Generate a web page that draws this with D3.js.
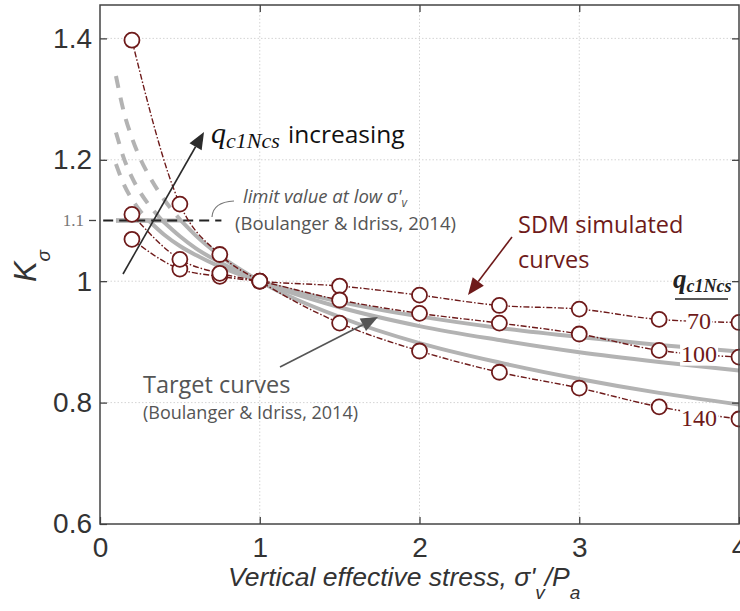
<!DOCTYPE html>
<html>
<head>
<meta charset="utf-8">
<script src="https://cdn.jsdelivr.net/npm/d3@7"></script>
<style>
  html, body { margin: 0; padding: 0; background: #fff; }
  svg { display: block; }
</style>
</head>
<body>
<svg id="chart" width="740" height="611"></svg>
<script>
// ---- SDM simulated K_sigma values at discrete vertical stresses ----
const stressSDM = [0.2, 0.5, 0.75, 1, 1.5, 2, 2.5, 3, 3.5, 4];
const sdm70  = [1.069, 1.020, 1.008, 1.000, 0.992, 0.977, 0.960, 0.954, 0.937, 0.932];
const sdm100 = [1.110, 1.036, 1.013, 1.000, 0.969, 0.947, 0.931, 0.913, 0.886, 0.875];
const sdm140 = [1.397, 1.127, 1.044, 1.000, 0.931, 0.885, 0.850, 0.824, 0.793, 0.773];

// ---- Target curves (Boulanger & Idriss, 2014), limited to 1.1 at low stress ----
const target70Stress  = [0.1, 0.304, 0.4, 0.5, 0.6, 0.75, 1, 1.5, 2, 2.5, 3, 3.5, 4];
const target70        = [1.100, 1.100, 1.077, 1.058, 1.043, 1.024, 1.000, 0.966, 0.942, 0.923, 0.908, 0.895, 0.884];
const target100Stress = [0.1, 0.389, 0.5, 0.6, 0.75, 1, 1.5, 2, 2.5, 3, 3.5, 4];
const target100       = [1.100, 1.100, 1.074, 1.054, 1.031, 1.000, 0.957, 0.926, 0.903, 0.883, 0.867, 0.853];
const target140Stress = [0.1, 0.506, 0.6, 0.75, 1, 1.5, 2, 2.5, 3, 3.5, 4];
const target140       = [1.100, 1.100, 1.075, 1.042, 1.000, 0.941, 0.898, 0.866, 0.839, 0.816, 0.797];

// ---- Unlimited target curves above the 1.1 limit ----
const ext70Stress  = [0.1, 0.15, 0.2, 0.25, 0.304];
const ext70        = [1.193, 1.159, 1.135, 1.116, 1.100];
const ext100Stress = [0.1, 0.15, 0.2, 0.25, 0.3, 0.389];
const ext100       = [1.245, 1.202, 1.171, 1.147, 1.128, 1.100];
const ext140Stress = [0.1, 0.15, 0.2, 0.25, 0.3, 0.4, 0.506];
const ext140       = [1.338, 1.278, 1.236, 1.203, 1.177, 1.135, 1.100];

const qLabels = ["70", "100", "140"];
const limitValue = 1.1;

// ---- Axis ticks ----
const xTicks = [0, 1, 2, 3, 4];
const yTicks = [0.6, 0.8, 1, 1.2, 1.4];
const xGrid = [1, 2, 3];
const yGrid = [0.8, 1, 1.2, 1.4];

const svg = d3.select("#chart");
const x = d3.scaleLinear().domain([0, 4]).range([100, 739]);
const y = d3.scaleLinear().domain([0.6, 1.455]).range([524, 5]);

const RED = "#6e1a1a";
const GRAY = "#b3b3b3";
const SANS = "'Open Sans', 'Noto Sans', sans-serif";
const SERIF = "'Liberation Serif', 'DejaVu Serif', serif";
const AXF = "'Liberation Sans', Arial, sans-serif";

const zip = (xs, ys) => xs.map((s, i) => [s, ys[i]]);

// grid
const grid = svg.append("g").attr("stroke", "#d4d4d4").attr("stroke-width", 1).attr("stroke-dasharray", "1.5,2");
grid.selectAll(".gx").data(xGrid).join("line")
  .attr("x1", d => x(d)).attr("x2", d => x(d)).attr("y1", y.range()[0]).attr("y2", y.range()[1]);
grid.selectAll(".gy").data(yGrid).join("line")
  .attr("x1", x.range()[0]).attr("x2", x.range()[1]).attr("y1", d => y(d)).attr("y2", d => y(d));

const lineMono = d3.line().x(d => x(d[0])).y(d => y(d[1])).curve(d3.curveMonotoneX);
const lineLin = d3.line().x(d => x(d[0])).y(d => y(d[1]));

// target curves: dashed unlimited part
const extSeries = [zip(ext70Stress, ext70), zip(ext100Stress, ext100), zip(ext140Stress, ext140)];
svg.append("g").selectAll("path").data(extSeries).join("path")
  .attr("d", lineMono).attr("fill", "none").attr("stroke", GRAY)
  .attr("stroke-width", 4).attr("stroke-dasharray", "12,10");

// target curves: limited part (flat plateau, then decreasing)
const targetSeries = [zip(target70Stress, target70), zip(target100Stress, target100), zip(target140Stress, target140)];
const tg = svg.append("g").attr("fill", "none").attr("stroke", GRAY).attr("stroke-width", 4);
targetSeries.forEach(pts => {
  tg.append("path").attr("d", lineLin(pts.slice(0, 2)));
  tg.append("path").attr("d", lineMono(pts.slice(1)));
});

// limit value line
svg.append("line")
  .attr("x1", x(0.02)).attr("x2", x(0.76))
  .attr("y1", y(limitValue)).attr("y2", y(limitValue))
  .attr("stroke", "#222").attr("stroke-width", 2).attr("stroke-dasharray", "10,6");

// SDM curves
const sdmSeries = [sdm70, sdm100, sdm140].map(v => zip(stressSDM, v));
svg.append("g").selectAll("path").data(sdmSeries).join("path")
  .attr("d", lineMono).attr("fill", "none").attr("stroke", RED)
  .attr("stroke-width", 1.4).attr("stroke-dasharray", "6,2,1.5,2");

// q labels sitting on the SDM curves between the last two points
const labG = svg.append("g");
sdmSeries.forEach((pts, i) => {
  const n = pts.length;
  const sx = (pts[n - 2][0] + pts[n - 1][0]) / 2;
  const sy = (pts[n - 2][1] + pts[n - 1][1]) / 2;
  const g = labG.append("g");
  const t = g.append("text")
    .attr("x", x(sx)).attr("y", y(sy) + (i === 2 ? 5 : 0))
    .attr("dy", "0.33em").attr("text-anchor", "middle")
    .attr("font-family", SERIF).attr("font-size", 24).attr("fill", RED)
    .text(qLabels[i]);
  const b = t.node().getBBox();
  g.insert("rect", "text").attr("x", b.x - 1).attr("y", b.y + 2)
    .attr("width", b.width + 2).attr("height", b.height - 3).attr("fill", "#fff");
});

// SDM points
svg.append("g").selectAll("g").data(sdmSeries).join("g")
  .selectAll("circle").data(d => d).join("circle")
  .attr("cx", d => x(d[0])).attr("cy", d => y(d[1])).attr("r", 7.5)
  .attr("fill", "#fff").attr("stroke", RED).attr("stroke-width", 1.8);

// frame and axes
const frame = svg.append("g");
const axStyle = g => {
  g.selectAll(".domain").remove();
  g.selectAll(".tick line").attr("stroke", "#333").attr("stroke-width", 1.2);
  g.selectAll("text").attr("font-family", AXF).attr("font-size", 28).attr("fill", "#333");
};
frame.append("g").attr("transform", `translate(0,${y.range()[0]})`)
  .call(d3.axisBottom(x).tickValues(xTicks).tickSize(-7).tickSizeOuter(0).tickPadding(13).tickFormat(d3.format("d")))
  .call(axStyle);
frame.append("g").attr("transform", `translate(0,${y.range()[1]})`)
  .call(d3.axisTop(x).tickValues(xGrid).tickSize(-7).tickSizeOuter(0).tickFormat(""))
  .call(axStyle);
frame.append("g").attr("transform", `translate(${x.range()[0]},0)`)
  .call(d3.axisLeft(y).tickValues(yTicks).tickSize(-7).tickSizeOuter(0).tickPadding(8)
    .tickFormat(d => d === 1 ? "1" : d3.format(".1f")(d)))
  .call(axStyle);
frame.append("g").attr("transform", `translate(${x.range()[1]},0)`)
  .call(d3.axisRight(y).tickValues(yTicks.slice(1)).tickSize(-7).tickSizeOuter(0).tickFormat(""))
  .call(axStyle);
frame.append("rect")
  .attr("x", x.range()[0]).attr("y", y.range()[1])
  .attr("width", x.range()[1] - x.range()[0]).attr("height", y.range()[0] - y.range()[1])
  .attr("fill", "none").attr("stroke", "#444").attr("stroke-width", 1.5);

// 1.1 tick
frame.append("line").attr("x1", x(0) - 11).attr("x2", x(0) - 4)
  .attr("y1", y(limitValue)).attr("y2", y(limitValue)).attr("stroke", "#444").attr("stroke-width", 1.3);
frame.append("text").attr("x", x(0) - 16).attr("y", y(limitValue)).attr("dy", "0.33em")
  .attr("text-anchor", "end").attr("font-family", SERIF).attr("font-size", 17).attr("fill", "#777")
  .text("1.1");

// axis titles
const xt = svg.append("text").attr("x", 228).attr("y", 586)
  .attr("font-family", AXF).attr("font-style", "italic").attr("font-size", 26.5).attr("fill", "#333");
xt.append("tspan").text("Vertical effective stress, σ'");
xt.append("tspan").attr("font-size", 19).attr("dy", 13).text("v");
xt.append("tspan").attr("dy", -13).text("/P");
xt.append("tspan").attr("font-size", 19).attr("dy", 13).text("a");

const yt = svg.append("text").attr("transform", "translate(36,266) rotate(-90)")
  .attr("text-anchor", "middle")
  .attr("font-family", AXF).attr("font-style", "italic").attr("font-size", 31).attr("fill", "#333");
yt.append("tspan").text("K");
yt.append("tspan").attr("font-size", 19).attr("dy", 14).text("σ");

// arrows
function arrow(x1, y1, x2, y2, color, len, half) {
  const a = Math.atan2(y2 - y1, x2 - x1);
  const bx = x2 - len * Math.cos(a), by = y2 - len * Math.sin(a);
  svg.append("line").attr("x1", x1).attr("y1", y1).attr("x2", bx).attr("y2", by)
    .attr("stroke", color).attr("stroke-width", 1.6);
  const px = -Math.sin(a) * half, py = Math.cos(a) * half;
  svg.append("path")
    .attr("d", `M${x2},${y2}L${bx + px},${by + py}L${bx - px},${by - py}Z`)
    .attr("fill", color);
}

// q_c1Ncs increasing
arrow(123, 274, 204, 132, "#2b2b2b", 17, 7);
const qi = svg.append("text").attr("x", 211).attr("y", 143)
  .attr("font-family", SERIF).attr("font-style", "italic").attr("fill", "#111");
qi.append("tspan").attr("font-size", 30).text("q");
qi.append("tspan").attr("font-size", 22).attr("dy", 5).text("c1Ncs");
svg.append("text").attr("x", 288).attr("y", 143)
  .attr("font-family", SANS).attr("font-size", 24.5).attr("fill", "#111").text("increasing");

// limit value note
svg.append("path").attr("d", "M212,217 Q213,202 234,201")
  .attr("fill", "none").attr("stroke", "#777").attr("stroke-width", 1.2);
const lv = svg.append("text").attr("x", 243).attr("y", 203)
  .attr("font-family", SANS).attr("font-style", "italic").attr("font-size", 18.5).attr("fill", "#555");
lv.append("tspan").text("limit value at low σ'");
lv.append("tspan").attr("font-size", 12).attr("dy", 4).text("v");
svg.append("text").attr("x", 235).attr("y", 230)
  .attr("font-family", SANS).attr("font-size", 18.5).attr("fill", "#555")
  .text("(Boulanger & Idriss, 2014)");

// SDM simulated curves note
arrow(512, 237, 468, 295, RED, 17, 7);
svg.append("text").attr("x", 518).attr("y", 233)
  .attr("font-family", SANS).attr("font-size", 23.5).attr("fill", RED).text("SDM simulated");
svg.append("text").attr("x", 518).attr("y", 268)
  .attr("font-family", SANS).attr("font-size", 23.5).attr("fill", RED).text("curves");

// Target curves note
arrow(280, 367, 378, 317, "#555", 17, 7);
svg.append("text").attr("x", 143).attr("y", 393)
  .attr("font-family", SANS).attr("font-size", 23.5).attr("fill", "#555").text("Target curves");
svg.append("text").attr("x", 143).attr("y", 419)
  .attr("font-family", SANS).attr("font-size", 18).attr("fill", "#555").text("(Boulanger & Idriss, 2014)");

// q_c1Ncs column header
const qh = svg.append("text").attr("x", 673).attr("y", 288)
  .attr("font-family", SERIF).attr("font-style", "italic").attr("font-weight", "bold").attr("fill", "#222");
qh.append("tspan").attr("font-size", 27).text("q");
qh.append("tspan").attr("font-size", 18).attr("dy", 4).text("c1Ncs");
svg.append("line").attr("x1", 675).attr("x2", 728).attr("y1", 299).attr("y2", 299)
  .attr("stroke", "#222").attr("stroke-width", 1.6);
</script>
</body>
</html>
